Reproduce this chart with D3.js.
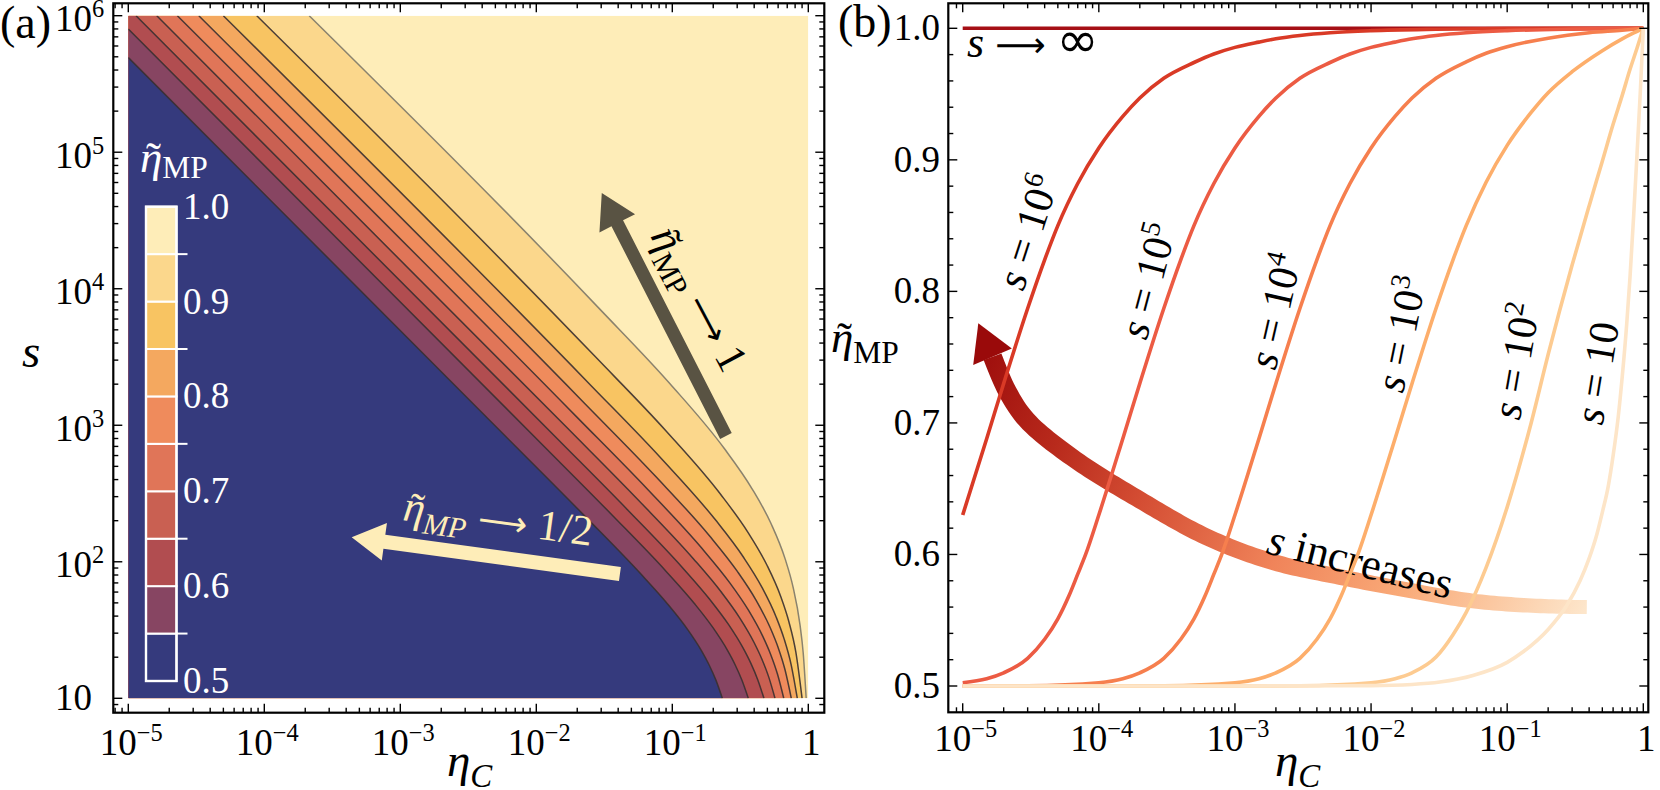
<!DOCTYPE html>
<html>
<head>
<meta charset="utf-8">
<script src="https://cdn.jsdelivr.net/npm/d3@7/dist/d3.min.js"></script>
<style>
html,body{margin:0;padding:0;background:#fff;}
svg{display:block;}
text{font-family:"Liberation Serif","DejaVu Serif",serif;}
</style>
</head>
<body>
<svg id="chart" width="1660" height="790" xmlns="http://www.w3.org/2000/svg"></svg>
<script>
// ================= DATA =================
// Panel (a): contour levels of eta~_MP and contour lines, as [eta_C, s]
const contourLevels = [0.55, 0.60, 0.65, 0.70, 0.75, 0.80, 0.85, 0.90, 0.95];
const contour055 = [[1e-5,494000],[0.007,705.4],[0.02333,210.6],[0.05833,81.9],[0.09332,48.47],[0.1283,32.36],[0.1633,22.43],[0.1866,17.53],[0.21,13.47],[0.2333,10]];
const contour060 = [[1e-5,800000],[0.01086,736.0],[0.0362,219.3],[0.0905,84.68],[0.1448,49.7],[0.1991,32.9],[0.2534,22.64],[0.2896,17.62],[0.3258,13.49],[0.362,10]];
const contour065 = [[1.14e-5,1e6],[0.01416,803.9],[0.0472,238.7],[0.118,91.25],[0.1888,52.93],[0.2596,34.6],[0.3304,23.48],[0.3776,18.08],[0.4248,13.69],[0.472,10]];
const contour070 = [[1.62e-5,1e6],[0.01707,946.8],[0.0569,280.1],[0.1423,105.8],[0.2276,60.51],[0.313,38.85],[0.3983,25.75],[0.4552,19.42],[0.5121,14.29],[0.569,10]];
const contour075 = [[2.29e-5,1e6],[0.0198,1151.5],[0.066,338.2],[0.165,125.5],[0.264,70.38],[0.363,44.2],[0.462,28.53],[0.528,21.03],[0.594,14.99],[0.66,10]];
const contour080 = [[3.3e-5,1e6],[0.0225,1456.7],[0.075,424.8],[0.1875,155.1],[0.3,85.33],[0.4125,52.41],[0.525,32.84],[0.6,23.54],[0.675,16.11],[0.75,10]];
const contour085 = [[5e-5,1e6],[0.0249,1983],[0.083,570.7],[0.2075,202.9],[0.332,108.8],[0.4565,64.95],[0.581,39.28],[0.664,27.25],[0.747,17.74],[0.83,10]];
const contour090 = [[8.8e-5,1e6],[0.027,3197],[0.09,908],[0.225,314.7],[0.36,164.3],[0.495,95.06],[0.63,54.95],[0.72,36.36],[0.81,21.75],[0.9,10]];
const contour095 = [[2.14e-4,1e6],[0.02895,7181],[0.0965,2006],[0.2413,675.2],[0.386,342.6],[0.5308,191.4],[0.6755,105.0],[0.772,65.42],[0.8685,34.62],[0.9168,21.66],[0.965,10]];
const bandColors = ["#353a7d","#874562","#b14d50","#c96052","#e07558","#ef8b5c","#f4a85f","#f8c462","#fbd78c","#feedb8"];
const colorbarLabelValues = [0.5,0.6,0.7,0.8,0.9,1.0];
const colorbarLabels = ["0.5","0.6","0.7","0.8","0.9","1.0"];
const colorbarTickValues = [0.55,0.65,0.75,0.85,0.95];
const sTicks = [10,1e2,1e3,1e4,1e5,1e6];
const sTickExp = [1,2,3,4,5,6];
const etaTicks = [1e-5,1e-4,1e-3,1e-2,1e-1,1];
const etaTickExp = [-5,-4,-3,-2,-1,0];

// Panel (b): eta~_MP versus eta_C for several s, as [eta_C, eta~_MP]
const curveSInf = [[1e-5,1],[1,1]];
const curveS1e6 = [[1e-5,0.630],[1.5e-5,0.688],[2e-5,0.730],[3e-5,0.787],[4e-5,0.824],[5e-5,0.850],[7e-5,0.882],[1e-4,0.909],[1.5e-4,0.933],[2e-4,0.947],[3e-4,0.962],[5e-4,0.974],[7e-4,0.9805],[1e-3,0.9855],[1.5e-3,0.9895],[2e-3,0.992],[3e-3,0.9945],[5e-3,0.9966],[1e-2,0.9982],[3e-2,0.9993],[0.1,0.9998],[1,1]];
const curveS1e5 = [[1e-5,0.5025],[1.5e-5,0.5055],[2e-5,0.510],[3e-5,0.521],[4e-5,0.5355],[5e-5,0.551],[6e-5,0.568],[7e-5,0.585],[8e-5,0.600],[1e-4,0.630],[1.5e-4,0.688],[2e-4,0.730],[3e-4,0.787],[4e-4,0.824],[5e-4,0.850],[7e-4,0.882],[1e-3,0.909],[1.5e-3,0.933],[2e-3,0.947],[3e-3,0.962],[5e-3,0.974],[7e-3,0.9805],[1e-2,0.9855],[1.5e-2,0.9895],[2e-2,0.992],[3e-2,0.9945],[5e-2,0.9966],[0.1,0.9982],[0.3,0.9994],[1,1]];
const curveS1e4 = [[1e-5,0.5000],[3e-5,0.5002],[1e-4,0.5025],[1.5e-4,0.5055],[2e-4,0.510],[3e-4,0.521],[4e-4,0.5355],[5e-4,0.551],[6e-4,0.568],[7e-4,0.585],[8e-4,0.600],[1e-3,0.630],[1.5e-3,0.688],[2e-3,0.730],[3e-3,0.787],[4e-3,0.824],[5e-3,0.850],[7e-3,0.882],[1e-2,0.909],[1.5e-2,0.933],[2e-2,0.947],[3e-2,0.962],[5e-2,0.9745],[7e-2,0.981],[0.1,0.986],[0.2,0.9925],[0.4,0.9966],[0.7,0.9985],[1,1]];
const curveS1e3 = [[1e-5,0.5],[1e-4,0.5],[3e-4,0.5002],[1e-3,0.5025],[1.5e-3,0.5055],[2e-3,0.510],[3e-3,0.521],[4e-3,0.5355],[5e-3,0.551],[6e-3,0.568],[7e-3,0.585],[8e-3,0.600],[1e-2,0.630],[1.5e-2,0.688],[2e-2,0.730],[3e-2,0.787],[4e-2,0.824],[5e-2,0.850],[7e-2,0.883],[0.1,0.911],[0.15,0.936],[0.2,0.951],[0.3,0.967],[0.5,0.983],[0.7,0.992],[0.85,0.9965],[1,1]];
const curveS1e2 = [[1e-5,0.5],[1e-3,0.5],[3e-3,0.5002],[1e-2,0.5025],[1.5e-2,0.5055],[2e-2,0.510],[3e-2,0.522],[4e-2,0.539],[5e-2,0.556],[7e-2,0.590],[0.1,0.636],[0.15,0.700],[0.2,0.752],[0.3,0.820],[0.4,0.865],[0.5,0.899],[0.6,0.927],[0.7,0.949],[0.8,0.969],[0.9,0.985],[1,1]];
const curveS1e1 = [[1e-5,0.5],[1e-3,0.5],[1e-2,0.5003],[2e-2,0.5012],[3.2e-2,0.503],[5.6e-2,0.508],[0.1,0.518],[0.131,0.526],[0.2,0.543],[0.273,0.561],[0.343,0.580],[0.4,0.597],[0.455,0.615],[0.5,0.632],[0.553,0.652],[0.6,0.675],[0.655,0.705],[0.7,0.735],[0.755,0.775],[0.8,0.812],[0.85,0.858],[0.9,0.905],[0.95,0.951],[1,1]];
const curveNames = ["∞","6","5","4","3","2","1"];
const curveColors = ["#a50f15","#d93a26","#ec5b43","#f67f4e","#fdae6b","#fdcb91","#fde5c8"];
const etaMPTicks = [0.5,0.6,0.7,0.8,0.9,1.0];
const etaMPTickLabels = ["0.5","0.6","0.7","0.8","0.9","1.0"];
// "s increases" arrow centre line in data units [eta_C, eta~_MP], tail -> head base, and tip
const increaseArrow = [[0.3846,0.56],[0.1747,0.5608],[0.0562,0.5646],[0.01839,0.573],[0.005914,0.5829],[0.001905,0.5943],[6.205e-4,0.6133],[2.008e-4,0.6414],[6.461e-5,0.6733],[2.953e-5,0.7022],[2.105e-5,0.725],[1.656e-5,0.7503]];
const increaseArrowTip = [1.302e-5,0.7757];

// ================= RENDER =================
const svg = d3.select("#chart");
const defs = svg.append("defs");
const FT = 37;   // tick font
const FL = 45;   // label font
const SYM = "'DejaVu Sans','DejaVu Serif',sans-serif";

function rich(g, x, y, size, color, parts, anchor) {
  const t = g.append("text").attr("x", x).attr("y", y).attr("font-size", size)
    .attr("fill", color).attr("text-anchor", anchor || "start");
  let shift = 0;
  parts.forEach(p => {
    const ts = t.append("tspan").text(p.t);
    let target = 0, fs = size;
    if (p.sub) { target = size * (p.drop !== undefined ? p.drop : 0.24); fs = size * 0.7; }
    if (p.sup) { target = -size * 0.375; fs = size * 0.66; }
    if (p.sym) { ts.style("font-family", SYM); fs = size * (p.scale || 0.9); }
    ts.attr("font-size", fs);
    if (target !== shift) { ts.attr("dy", target - shift); shift = target; }
    if (p.i) ts.attr("font-style", "italic");
  });
  return t;
}
function tilde(g, x, y, size, color) {
  g.append("text").attr("x", x + size * 0.3).attr("y", y + size * 0.03).attr("font-size", size)
    .attr("fill", color).attr("text-anchor", "middle").text("\u02DC");
}
function powText(g, x, y, e, anchor) {
  if (e === 0) return rich(g, x, y, FT, "#000", [{t: "1"}], anchor);
  if (e === 1) return rich(g, x, y, FT, "#000", [{t: "10"}], anchor);
  return rich(g, x, y, FT, "#000", [{t: "10"}, {t: (e < 0 ? "\u2212" + (-e) : String(e)), sup: true}], anchor);
}
function logMinor(scale, pmin, pmax, e0, e1) {
  const out = [];
  for (let e = e0; e <= e1; e++) for (let m = 2; m <= 9; m++) {
    const v = m * Math.pow(10, e), p = scale(v);
    if (p > pmin + 1.5 && p < pmax - 1.5) out.push(v);
  }
  return out;
}
function drawFrame(g, f, xs, ys, xMaj, xMin, yMaj, yMin) {
  const tk = (x1, y1, x2, y2) => g.append("line").attr("x1", x1).attr("y1", y1).attr("x2", x2).attr("y2", y2)
    .attr("stroke", "#000").attr("stroke-width", 1.4);
  const MJ = 9, MN = 5;
  xMaj.forEach(v => { const x = xs(v); tk(x, f.y1, x, f.y1 - MJ); tk(x, f.y0, x, f.y0 + MJ); });
  xMin.forEach(v => { const x = xs(v); tk(x, f.y1, x, f.y1 - MN); tk(x, f.y0, x, f.y0 + MN); });
  yMaj.forEach(v => { const y = ys(v); tk(f.x0, y, f.x0 + MJ, y); tk(f.x1, y, f.x1 - MJ, y); });
  yMin.forEach(v => { const y = ys(v); tk(f.x0, y, f.x0 + MN, y); tk(f.x1, y, f.x1 - MN, y); });
  g.append("rect").attr("x", f.x0).attr("y", f.y0).attr("width", f.x1 - f.x0).attr("height", f.y1 - f.y0)
    .attr("fill", "none").attr("stroke", "#000").attr("stroke-width", 2.2);
}
function arrowPoly(tail, tip, sh, hl, hh) {
  const dx = tip[0] - tail[0], dy = tip[1] - tail[1], L = Math.hypot(dx, dy);
  const ux = dx / L, uy = dy / L, px = -uy, py = ux;
  const bx = tip[0] - ux * hl, by = tip[1] - uy * hl;
  return [[tail[0] + px * sh, tail[1] + py * sh], [bx + px * sh, by + py * sh], [bx + px * hh, by + py * hh], tip,
          [bx - px * hh, by - py * hh], [bx - px * sh, by - py * sh], [tail[0] - px * sh, tail[1] - py * sh]];
}

// ---------------- Panel (a) ----------------
const fa = {x0: 113.3, x1: 824.3, y0: 3.3, y1: 712.7};
const xA = d3.scaleLog().domain([1e-5, 1]).range([128.3, 808.3]);
const yA = d3.scaleLog().domain([10, 1e6]).range([698.3, 15.7]);
const gA = svg.append("g");
const contours = [contour055, contour060, contour065, contour070, contour075, contour080, contour085, contour090, contour095];

defs.append("clipPath").attr("id", "clipA").append("rect")
  .attr("x", xA(1e-5)).attr("y", yA(1e6)).attr("width", xA(1) - xA(1e-5)).attr("height", yA(10) - yA(1e6));
const fillG = gA.append("g").attr("clip-path", "url(#clipA)");
fillG.append("rect").attr("x", xA(1e-5)).attr("y", yA(1e6)).attr("width", xA(1) - xA(1e-5))
  .attr("height", yA(10) - yA(1e6)).attr("fill", bandColors[9]);
const contourLine = d3.line().x(d => xA(d[0])).y(d => yA(d[1])).curve(d3.curveMonotoneX);
for (let i = contours.length - 1; i >= 0; i--) {
  const pts = contours[i];
  let d = contourLine(pts) + "L" + xA(1e-5) + "," + yA(10);
  if (pts[0][1] >= 1e6) d += "L" + xA(1e-5) + "," + yA(1e6);
  d += "Z";
  fillG.append("path").attr("d", d).attr("fill", bandColors[i]);
}
contours.forEach((pts, i) => {
  fillG.append("path").attr("d", contourLine(pts)).attr("fill", "none")
    .attr("stroke", i === contours.length - 1 ? "#7d7868" : "#3a3030")
    .attr("stroke-width", 1.5).attr("stroke-opacity", 0.9);
});

// light arrow  (eta~ -> 1/2)
const lightTail = [xA(0.0412), yA(81.4)], lightTip = [xA(4.39e-4), yA(151.2)];
gA.append("polygon").attr("points", arrowPoly(lightTail, lightTip, 7, 33, 19).map(p => p.join(",")).join(" "))
  .attr("fill", "#feedb8");
const lt = gA.append("g").attr("transform", "translate(402,520) rotate(7.8)");
rich(lt, 0, 0, 43, "#feedb8", [{t: "η", i: true}, {t: "MP", sub: true, i: true}, {t: " "}, {t: "\u27F6", sym: true, scale: 0.8}, {t: " 1/2"}]);
tilde(lt, 0, 0, 43, "#feedb8");

// dark arrow (eta~ -> 1)
const darkTail = [xA(0.248), yA(835)], darkTip = [xA(0.0303), yA(50230)];
gA.append("polygon").attr("points", arrowPoly(darkTail, darkTip, 6.5, 34, 20).map(p => p.join(",")).join(" "))
  .attr("fill", "#595343");
const dt = gA.append("g").attr("transform", "translate(650,236) rotate(62)");
rich(dt, 0, 0, 43, "#000", [{t: "η", i: true}, {t: "MP", sub: true}, {t: " "}, {t: "\u27F6", sym: true, scale: 0.8}, {t: " 1"}]);
tilde(dt, 0, 0, 43, "#000");

// colour bar
const cb = {x0: 146, x1: 176.5};
const yC = d3.scaleLinear().domain([0.5, 1]).range([681, 206.7]);
bandColors.forEach((c, i) => {
  const lo = 0.5 + 0.05 * i, hi = lo + 0.05;
  gA.append("rect").attr("x", cb.x0).attr("y", yC(hi)).attr("width", cb.x1 - cb.x0).attr("height", yC(lo) - yC(hi))
    .attr("fill", c).attr("stroke", "#fff").attr("stroke-width", 2);
});
gA.append("rect").attr("x", cb.x0).attr("y", yC(1)).attr("width", cb.x1 - cb.x0).attr("height", yC(0.5) - yC(1))
  .attr("fill", "none").attr("stroke", "#fff").attr("stroke-width", 2.4);
colorbarTickValues.forEach(v => {
  gA.append("line").attr("x1", cb.x1).attr("x2", cb.x1 + 11).attr("y1", yC(v)).attr("y2", yC(v))
    .attr("stroke", "#fff").attr("stroke-width", 2);
});
colorbarLabelValues.forEach((v, i) => {
  gA.append("text").attr("x", 183).attr("y", yC(v) + 12).attr("font-size", FT).attr("fill", "#fff").text(colorbarLabels[i]);
});
rich(gA, 140, 172, FL, "#fff", [{t: "η", i: true}, {t: "MP", sub: true, drop: 0.14}]);
tilde(gA, 140, 172, FL, "#fff");

// frame and ticks (a)
drawFrame(gA, fa, xA, yA, etaTicks, logMinor(xA, fa.x0, fa.x1, -6, 0), sTicks, logMinor(yA, fa.y0, fa.y1, 0, 6));
etaTicks.forEach((v, i) => powText(gA, xA(v) + 3, 755, etaTickExp[i], "middle"));
sTicks.forEach((v, i) => powText(gA, 55, yA(v) + (sTickExp[i] === 1 ? 11.5 : 15.5), sTickExp[i], "start"));
rich(gA, 447, 776, 47, "#000", [{t: "η", i: true}, {t: "C", sub: true, i: true}]);
rich(gA, 22, 367, 47, "#000", [{t: "s", i: true}]);
gA.append("text").attr("x", 0).attr("y", 38).attr("font-size", 46).text("(a)");

// ---------------- Panel (b) ----------------
const fb = {x0: 948.3, x1: 1648.3, y0: 3.3, y1: 712.3};
const xB = d3.scaleLog().domain([1e-5, 1]).range([962.7, 1643.3]);
const yB = d3.scaleLinear().domain([0.5, 1]).range([686, 28.3]);
const gB = svg.append("g");

// "s increases" arrow with gradient
const incPts = increaseArrow.map(d => [xB(d[0]), yB(d[1])]);
const incTip = [xB(increaseArrowTip[0]), yB(increaseArrowTip[1])];
const grad = defs.append("linearGradient").attr("id", "incGrad").attr("gradientUnits", "userSpaceOnUse")
  .attr("x1", incPts[0][0]).attr("y1", incPts[0][1]).attr("x2", incTip[0]).attr("y2", incTip[1]);
[[0, "#fde6cb"], [0.26, "#f9aa78"], [0.45, "#f0845a"], [0.67, "#d44d33"], [0.82, "#b82a1c"], [1, "#9a0a0a"]]
  .forEach(s => grad.append("stop").attr("offset", s[0]).attr("stop-color", s[1]));
const incLine = d3.line().curve(d3.curveCatmullRom.alpha(0.5));
const tmp = gB.append("path").attr("d", incLine(incPts)).attr("fill", "none");
const node = tmp.node(), Ltot = node.getTotalLength();
const leftSide = [], rightSide = [], N = 160;
for (let j = 0; j <= N; j++) {
  const l = Ltot * j / N, p = node.getPointAtLength(l);
  const p2 = node.getPointAtLength(Math.min(Ltot, l + 0.6)), p1 = node.getPointAtLength(Math.max(0, l - 0.6));
  let dx = p2.x - p1.x, dy = p2.y - p1.y; const n = Math.hypot(dx, dy) || 1; dx /= n; dy /= n;
  const w = (14 + 5 * j / N) / 2;
  leftSide.push([p.x - dy * w, p.y + dx * w]); rightSide.push([p.x + dy * w, p.y - dx * w]);
}
tmp.remove();
gB.append("polygon").attr("points", leftSide.concat(rightSide.reverse()).map(p => p.join(",")).join(" "))
  .attr("fill", "url(#incGrad)");
{
  const base = incPts[incPts.length - 1];
  const dx = incTip[0] - base[0], dy = incTip[1] - base[1], L = Math.hypot(dx, dy);
  const px = -dy / L, py = dx / L, hh = 21;
  gB.append("polygon").attr("points", [[base[0] + px * hh, base[1] + py * hh], incTip, [base[0] - px * hh, base[1] - py * hh]]
    .map(p => p.join(",")).join(" ")).attr("fill", "#9a0a0a");
}
const it = gB.append("g").attr("transform", "translate(1265,553) rotate(14)");
rich(it, 0, 0, 44, "#000", [{t: "s", i: true}, {t: " increases"}]);

// curves
const curves = [curveSInf, curveS1e6, curveS1e5, curveS1e4, curveS1e3, curveS1e2, curveS1e1];
const cLine = d3.line().x(d => xB(d[0])).y(d => yB(d[1])).curve(d3.curveMonotoneX);
curves.forEach((c, i) => {
  gB.append("path").attr("d", cLine(c)).attr("fill", "none").attr("stroke", curveColors[i])
    .attr("stroke-width", 3.6).attr("stroke-linejoin", "round");
});

// curve labels
const curveLabelPos = [null, [1028, 232, -72], [1148, 281, -75], [1275, 311, -77], [1401, 334, -78.5], [1516, 361, -80], [1597, 373, -80.6]];
curveNames.forEach((nm, i) => {
  if (i === 0) return;
  const p = curveLabelPos[i];
  const lg = gB.append("g").attr("transform", `translate(${p[0]},${p[1]}) rotate(${p[2]})`);
  const parts = nm === "1" ? [{t: "s", i: true}, {t: " = 10"}] : [{t: "s", i: true}, {t: " = 10"}, {t: nm, sup: true}];
  rich(lg, 0, 14, 42, "#000", parts, "middle");
});
rich(gB, 967, 57, 44, "#000", [{t: "s", i: true}, {t: " "}, {t: "\u27F6", sym: true, scale: 0.8}, {t: " "}, {t: "∞", sym: true, scale: 1.15}]);

// frame & ticks (b)
const yMinorB = [];
for (let k = 24; k <= 51; k++) { if (k % 5 !== 0) { const v = k * 0.02; const y = yB(v); if (y > fb.y0 + 1.5 && y < fb.y1 - 1.5) yMinorB.push(v); } }
drawFrame(gB, fb, xB, yB, etaTicks, logMinor(xB, fb.x0, fb.x1, -6, 0), etaMPTicks, yMinorB);
etaTicks.forEach((v, i) => powText(gB, xB(v) + 3, 751, etaTickExp[i], "middle"));
etaMPTicks.forEach((v, i) => {
  gB.append("text").attr("x", 940).attr("y", yB(v) + 12).attr("font-size", FT).attr("text-anchor", "end").text(etaMPTickLabels[i]);
});
rich(gB, 1275, 776, 47, "#000", [{t: "η", i: true}, {t: "C", sub: true, i: true}]);
rich(gB, 831, 352, FL, "#000", [{t: "η", i: true}, {t: "MP", sub: true}]);
tilde(gB, 831, 352, FL, "#000");
gB.append("text").attr("x", 838).attr("y", 37).attr("font-size", 46).text("(b)");
</script>
</body>
</html>
